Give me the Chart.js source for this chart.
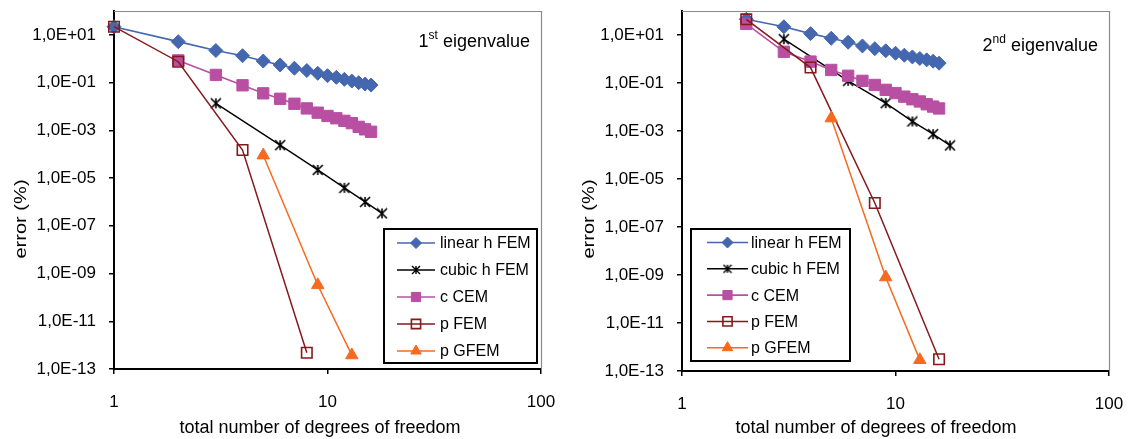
<!DOCTYPE html>
<html>
<head>
<meta charset="utf-8">
<script src="https://cdn.jsdelivr.net/npm/chart.js@4.4.1/dist/chart.umd.min.js"></script>
<style>
	body { margin: 0; background: #fff; width: 1129px; height: 439px; overflow: hidden; position: relative; }
	.panel { position: absolute; top: 0; width: 561px; height: 439px; }
	#panel-1 { left: 0; }
	#panel-2 { left: 568px; }
</style>
</head>
<body>
<div class="panel" id="panel-1"><canvas id="chart-1"></canvas></div>
<div class="panel" id="panel-2"><canvas id="chart-2"></canvas></div>
<script>
// DATA =====================================================

const xTickValues = [1, 10, 100];
const xTickLabels = ["1", "10", "100"];
const yTickValues = [1e1, 1e-1, 1e-3, 1e-5, 1e-7, 1e-9, 1e-11, 1e-13];
const yTickLabels = ["1,0E+01", "1,0E-01", "1,0E-03", "1,0E-05", "1,0E-07", "1,0E-09", "1,0E-11", "1,0E-13"];
const seriesNames = ["linear h FEM", "cubic h FEM", "c CEM", "p FEM", "p GFEM"];

// 1st eigenvalue
const linearDof1 = [1, 2, 3, 4, 5, 6, 7, 8, 9, 10, 11, 12, 13, 14, 15, 16];
const linearErr1 = [22, 5.2, 2.2, 1.34, 0.8, 0.55, 0.4, 0.32, 0.245, 0.195, 0.166, 0.137, 0.116, 0.099, 0.087, 0.079];
const cubicDof1 = [3, 6, 9, 12, 15, 18];
const cubicErr1 = [0.0135, 2.4e-4, 2.2e-5, 3.9e-6, 1.0e-6, 3.3e-7];
const ccemDof1 = [2, 3, 4, 5, 6, 7, 8, 9, 10, 11, 12, 13, 14, 15, 16];
const ccemErr1 = [0.85, 0.21, 0.077, 0.0355, 0.021, 0.013, 0.0083, 0.0055, 0.004, 0.0032, 0.0025, 0.002, 0.0014, 0.0011, 0.00087];
const pfemDof1 = [1, 2, 4, 8];
const pfemErr1 = [22, 0.75, 1.5e-4, 4.8e-13];
const pgfemDof1 = [5, 9, 13];
const pgfemErr1 = [9e-5, 3.3e-10, 3.8e-13];

// 2nd eigenvalue
const linearDof2 = [2, 3, 4, 5, 6, 7, 8, 9, 10, 11, 12, 13, 14, 15, 16];
const linearErr2 = [45, 22, 11.4, 7.3, 5.0, 3.5, 2.7, 2.2, 1.74, 1.44, 1.22, 1.05, 0.92, 0.81, 0.67];
const cubicDof2 = [3, 6, 9, 12, 15, 18];
const cubicErr2 = [6.7, 0.123, 0.0145, 0.0025, 7.4e-4, 2.5e-4];
const ccemDof2 = [2, 3, 4, 5, 6, 7, 8, 9, 10, 11, 12, 13, 14, 15, 16];
const ccemErr2 = [29, 2.0, 0.78, 0.35, 0.2, 0.123, 0.083, 0.052, 0.038, 0.027, 0.021, 0.017, 0.013, 0.0104, 0.0087];
const pfemDof2 = [2, 4, 8, 16];
const pfemErr2 = [45, 0.44, 1.0e-6, 3.1e-13];
const pgfemDof2 = [5, 9, 13];
const pgfemErr2 = [3.4e-3, 8.1e-10, 2.9e-13];

// VARIABLES ================================================

const FONT = "'Liberation Sans', Arial, sans-serif";

let figure = {
	initialise: undefined,
	makeAsterisk: undefined,
	points: undefined,
	datasets: undefined,
	makeChart: undefined,
	decorations: undefined,
};

// FUNCTIONS ================================================

figure.makeAsterisk = function (size, width) {
	const c = document.createElement("canvas");
	c.width = size;
	c.height = size;
	const g = c.getContext("2d");
	const m = size / 2;
	const r = size / 2 - 1;
	g.strokeStyle = "#000";
	g.lineWidth = width;
	g.beginPath();
	g.moveTo(m - r, m - r);
	g.lineTo(m + r, m + r);
	g.moveTo(m + r, m - r);
	g.lineTo(m - r, m + r);
	g.moveTo(m, m - r);
	g.lineTo(m, m + r);
	g.stroke();
	return c;
};

figure.points = function (xs, ys) {
	return xs.map((x, i) => ({ x: x, y: ys[i] }));
};

figure.datasets = function (series) {
	const styles = [
		{ color: "#4467B0", fill: "#4467B0", pointStyle: "rectRot", radius: 7, legendRadius: 5.5, width: 1.6 },
		{ color: "#000000", fill: "#000000", pointStyle: figure.makeAsterisk(12, 1.6), radius: 6, legendRadius: 5, legendStyle: figure.makeAsterisk(10, 1.4), width: 1.4 },
		{ color: "#B84FA2", fill: "#B84FA2", pointStyle: "rect", radius: 8, legendRadius: 6.5, width: 1.6 },
		{ color: "#86191B", fill: "rgba(0,0,0,0)", pointStyle: "rect", radius: 7.4, legendRadius: 6.5, width: 1.5 },
		{ color: "#F46B20", fill: "#F46B20", pointStyle: "triangle", radius: 7.2, legendRadius: 6, width: 1.5 },
	];
	return series.map((s, i) => ({
		label: seriesNames[i],
		data: figure.points(s[0], s[1]),
		borderColor: styles[i].color,
		borderWidth: styles[i].width,
		pointStyle: styles[i].pointStyle,
		pointRadius: styles[i].radius,
		pointBackgroundColor: styles[i].fill,
		pointBorderColor: styles[i].color,
		pointBorderWidth: i === 3 ? 1.6 : 1,
		legendRadius: styles[i].legendRadius,
		legendStyle: styles[i].legendStyle || styles[i].pointStyle,
		order: 5 - i,
		clip: false,
		tension: 0,
	}));
};

figure.decorations = {
	id: "decorations",
	beforeDatasetsDraw(chart, args, o) {
		const ctx = chart.ctx;
		const a = chart.chartArea;
		ctx.save();
		ctx.strokeStyle = "#8a8a8a";
		ctx.lineWidth = 1.2;
		ctx.beginPath();
		ctx.moveTo(a.left, a.top + 0.5);
		ctx.lineTo(a.right + 0.5, a.top + 0.5);
		ctx.lineTo(a.right + 0.5, a.bottom);
		ctx.stroke();
		ctx.restore();
	},
	afterDraw(chart, args, o) {
		const ctx = chart.ctx;
		ctx.save();
		// legend box
		const L = o.legend;
		ctx.fillStyle = "#fff";
		ctx.fillRect(L.x, L.y, L.w, L.h);
		ctx.strokeStyle = "#000";
		ctx.lineWidth = 2;
		ctx.strokeRect(L.x, L.y, L.w, L.h);
		ctx.font = "16px " + FONT;
		ctx.textBaseline = "middle";
		ctx.textAlign = "left";
		chart.data.datasets.forEach((ds, i) => {
			const y = L.row0 + i * L.step;
			ctx.strokeStyle = ds.borderColor;
			ctx.lineWidth = ds.borderWidth;
			ctx.beginPath();
			ctx.moveTo(L.line0, y);
			ctx.lineTo(L.line1, y);
			ctx.stroke();
			ctx.fillStyle = ds.pointBackgroundColor;
			ctx.strokeStyle = ds.pointBorderColor;
			ctx.lineWidth = ds.pointBorderWidth;
			Chart.helpers.drawPoint(ctx, { pointStyle: ds.legendStyle, radius: ds.legendRadius, rotation: 0, borderWidth: ds.pointBorderWidth }, (L.line0 + L.line1) / 2, y);
			ctx.fillStyle = "#000";
			ctx.fillText(ds.label, L.text, y + 1);
		});
		// eigenvalue label
		const E = o.eigen;
		ctx.fillStyle = "#000";
		ctx.textAlign = "right";
		ctx.textBaseline = "middle";
		ctx.font = "18px " + FONT;
		const main = " eigenvalue";
		ctx.fillText(main, E.right, E.y);
		let x = E.right - ctx.measureText(main).width;
		ctx.font = "12px " + FONT;
		ctx.fillText(E.sup, x, E.y - 6);
		x -= ctx.measureText(E.sup).width;
		ctx.font = "18px " + FONT;
		ctx.fillText(E.num, x, E.y);
		// axis titles
		ctx.textAlign = "center";
		ctx.font = "18px " + FONT;
		ctx.fillText("total number of degrees of freedom", o.xTitle.x, o.xTitle.y);
		ctx.font = "17px " + FONT;
		ctx.translate(o.yTitle.x, o.yTitle.y);
		ctx.rotate(-Math.PI / 2);
		ctx.scale(1.18, 1);
		ctx.fillText("error (%)", 0, 0);
		ctx.restore();
	},
};

figure.makeChart = function (id, series, deco, xHeight) {
	const tickFont = { family: FONT, size: 17 };
	const config = {
		type: "line",
		data: { datasets: figure.datasets(series) },
		options: {
			responsive: true,
			maintainAspectRatio: false,
			animation: false,
			devicePixelRatio: 1,
			layout: { padding: { left: 0, top: 11, right: 20, bottom: 0 } },
			plugins: { legend: { display: false }, tooltip: { enabled: false }, decorations: deco },
			scales: {
				x: {
					type: "logarithmic",
					min: 1,
					max: 100,
					afterBuildTicks: (scale) => { scale.ticks = xTickValues.map((v) => ({ value: v })); },
					afterFit: (scale) => {
						scale.height = xHeight;
						scale.paddingLeft = 0;
						scale.paddingRight = 0;
					},
					ticks: {
						font: tickFont,
						color: "#000",
						padding: 18,
						autoSkip: false,
						maxRotation: 0,
						callback: (v) => { const k = xTickValues.indexOf(v); return k >= 0 ? xTickLabels[k] : ""; },
					},
					grid: { drawOnChartArea: false, color: "#000", tickLength: 5, lineWidth: 1.5 },
					border: { color: "#000", width: 2 },
				},
				y: {
					type: "logarithmic",
					min: 1e-13,
					max: 1e2,
					afterBuildTicks: (scale) => { scale.ticks = yTickValues.map((v) => ({ value: v })); },
					afterFit: (scale) => {
						scale.width = 114;
						scale.paddingTop = 0;
						scale.paddingBottom = 0;
					},
					ticks: {
						font: tickFont,
						color: "#000",
						padding: 13,
						autoSkip: false,
						callback: (v) => { const k = yTickValues.indexOf(v); return k >= 0 ? yTickLabels[k] : ""; },
					},
					grid: { drawOnChartArea: false, color: "#000", tickLength: 5, lineWidth: 1.5 },
					border: { color: "#000", width: 2 },
				},
			},
		},
		plugins: [figure.decorations],
	};
	return new Chart(document.getElementById(id), config);
};

figure.initialise = function () {
	figure.makeChart("chart-1", [
		[linearDof1, linearErr1],
		[cubicDof1, cubicErr1],
		[ccemDof1, ccemErr1],
		[pfemDof1, pfemErr1],
		[pgfemDof1, pgfemErr1],
	], {
		legend: { x: 384, y: 229, w: 153, h: 134, row0: 243, step: 27, line0: 397, line1: 435, text: 440 },
		eigen: { num: "1", sup: "st", right: 530, y: 42 },
		xTitle: { x: 320, y: 428 },
		yTitle: { x: 21, y: 219 },
	}, 70);
	figure.makeChart("chart-2", [
		[linearDof2, linearErr2],
		[cubicDof2, cubicErr2],
		[ccemDof2, ccemErr2],
		[pfemDof2, pfemErr2],
		[pgfemDof2, pgfemErr2],
	], {
		legend: { x: 123, y: 229, w: 159, h: 132, row0: 242.5, step: 26.3, line0: 139, line1: 180, text: 183 },
		eigen: { num: "2", sup: "nd", right: 530, y: 46 },
		xTitle: { x: 308, y: 428 },
		yTitle: { x: 21, y: 219 },
	}, 68);
	return;
};

// END ======================================================

figure.initialise();
</script>
</body>
</html>
